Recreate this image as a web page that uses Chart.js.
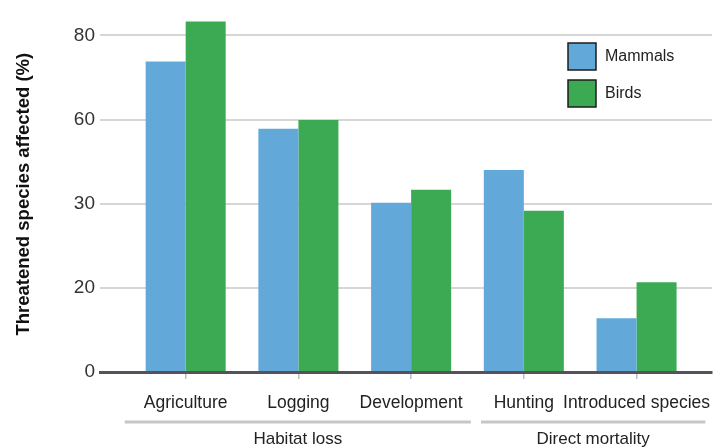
<!DOCTYPE html>
<html lang="en">
<head>
    <meta charset="UTF-8">
    <title>Threatened species by cause</title>
    <script src="https://cdn.jsdelivr.net/npm/chart.js"></script>
    <style>
        body {
            margin: 0;
            background-color: #fff;
        }

        .container {
            width: 724px;
            height: 448px;
        }
    </style>
</head>
<body>
    <div class="container">
        <canvas id="threatChart" width="724" height="448"></canvas>
    </div>
    <script>
        // causes along the x axis, and the two groups they fall into
        const causes = ['Agriculture', 'Logging', 'Development', 'Hunting', 'Introduced species'];
        const groupNames = ['Habitat loss', 'Direct mortality'];
        const groupFirst = [0, 3];
        const groupLast = [2, 4];

        // share of threatened species affected (%)
        const mammals = [73.8, 57.8, 40.2, 48.0, 12.8];
        const birds = [83.3, 59.9, 43.3, 38.3, 21.3];

        // y axis ticks and the text printed next to them
        const yTickValues = [0, 20, 40, 60, 80];
        const yTickLabels = ['0', '20', '30', '60', '80'];

        const seriesNames = ['Mammals', 'Birds'];
        const seriesColors = ['#62a9da', '#3caa52'];

        const fontFamily = '"Liberation Sans", Arial, sans-serif';

        // group brackets and names under the category labels
        const groupPlugin = {
            id: 'groupLabels',
            afterDraw(chart) {
                const ctx = chart.ctx;
                const x = chart.scales.x;
                ctx.save();
                groupNames.forEach((name, i) => {
                    const left = x.getPixelForValue(groupFirst[i] - (i === 0 ? 0.54 : 0.38));
                    const right = x.getPixelForValue(groupLast[i] + (i === 0 ? 0.53 : 0.61));
                    ctx.strokeStyle = '#c6c6c6';
                    ctx.lineWidth = 3;
                    ctx.beginPath();
                    ctx.moveTo(left, 422);
                    ctx.lineTo(right, 422);
                    ctx.stroke();
                    ctx.fillStyle = '#222';
                    ctx.font = '17px ' + fontFamily;
                    ctx.textAlign = 'center';
                    ctx.textBaseline = 'middle';
                    ctx.fillText(name, (left + right) / 2, 439);
                });
                ctx.restore();
            }
        };

        // legend boxes in the upper right of the plot
        const legendPlugin = {
            id: 'boxLegend',
            afterDraw(chart) {
                const ctx = chart.ctx;
                ctx.save();
                chart.data.datasets.forEach((ds, i) => {
                    const top = 43 + i * 37;
                    ctx.fillStyle = ds.backgroundColor;
                    ctx.fillRect(568, top, 28, 27);
                    ctx.strokeStyle = '#1c1c1c';
                    ctx.lineWidth = 1.5;
                    ctx.strokeRect(568, top, 28, 27);
                    ctx.fillStyle = '#222';
                    ctx.font = '16px ' + fontFamily;
                    ctx.textAlign = 'left';
                    ctx.textBaseline = 'middle';
                    ctx.fillText(ds.label, 605, top + 14);
                });
                ctx.restore();
            }
        };

        const ctx = document.getElementById('threatChart').getContext('2d');

        new Chart(ctx, {
            type: 'bar',
            data: {
                datasets: [
                    {
                        label: seriesNames[0],
                        data: mammals.map((v, i) => ({ x: i, y: v })),
                        backgroundColor: seriesColors[0]
                    },
                    {
                        label: seriesNames[1],
                        data: birds.map((v, i) => ({ x: i, y: v })),
                        backgroundColor: seriesColors[1]
                    }
                ]
            },
            options: {
                responsive: false,
                animation: false,
                categoryPercentage: 0.71,
                barPercentage: 1,
                layout: {
                    padding: 0
                },
                plugins: {
                    legend: { display: false },
                    tooltip: { enabled: false }
                },
                scales: {
                    x: {
                        type: 'linear',
                        min: -0.76,
                        max: 4.67,
                        offset: false,
                        z: 1,
                        afterBuildTicks(scale) {
                            scale.ticks = causes.map((_, i) => ({ value: i }));
                        },
                        afterFit(scale) {
                            scale.height = 76;
                        },
                        ticks: {
                            autoSkip: false,
                            maxRotation: 0,
                            padding: 14,
                            color: '#222',
                            font: { family: fontFamily, size: 17.5 },
                            callback: (value) => causes[value]
                        },
                        grid: {
                            offset: false,
                            drawOnChartArea: false,
                            drawTicks: true,
                            tickLength: 7,
                            color: '#bdbdbd',
                            lineWidth: 1.5
                        },
                        border: {
                            display: true,
                            color: '#56525c',
                            width: 3
                        }
                    },
                    y: {
                        min: 0,
                        max: 84.5,
                        afterBuildTicks(scale) {
                            scale.ticks = yTickValues.map(v => ({ value: v }));
                        },
                        afterFit(scale) {
                            scale.width = 100;
                        },
                        ticks: {
                            padding: 5,
                            color: '#333',
                            font: { family: fontFamily, size: 19 },
                            callback: (value) => yTickLabels[yTickValues.indexOf(value)]
                        },
                        grid: {
                            color: (c) => c.tick && c.tick.value === 0 ? 'rgba(0,0,0,0)' : '#d6d6d6',
                            lineWidth: 2,
                            drawTicks: false
                        },
                        border: { display: false },
                        title: {
                            display: true,
                            text: 'Threatened species affected (%)',
                            color: '#111',
                            font: { family: fontFamily, size: 18.5, weight: 'bold' },
                            padding: { top: 13, bottom: 0 }
                        }
                    }
                }
            },
            plugins: [groupPlugin, legendPlugin]
        });
    </script>
</body>
</html>
